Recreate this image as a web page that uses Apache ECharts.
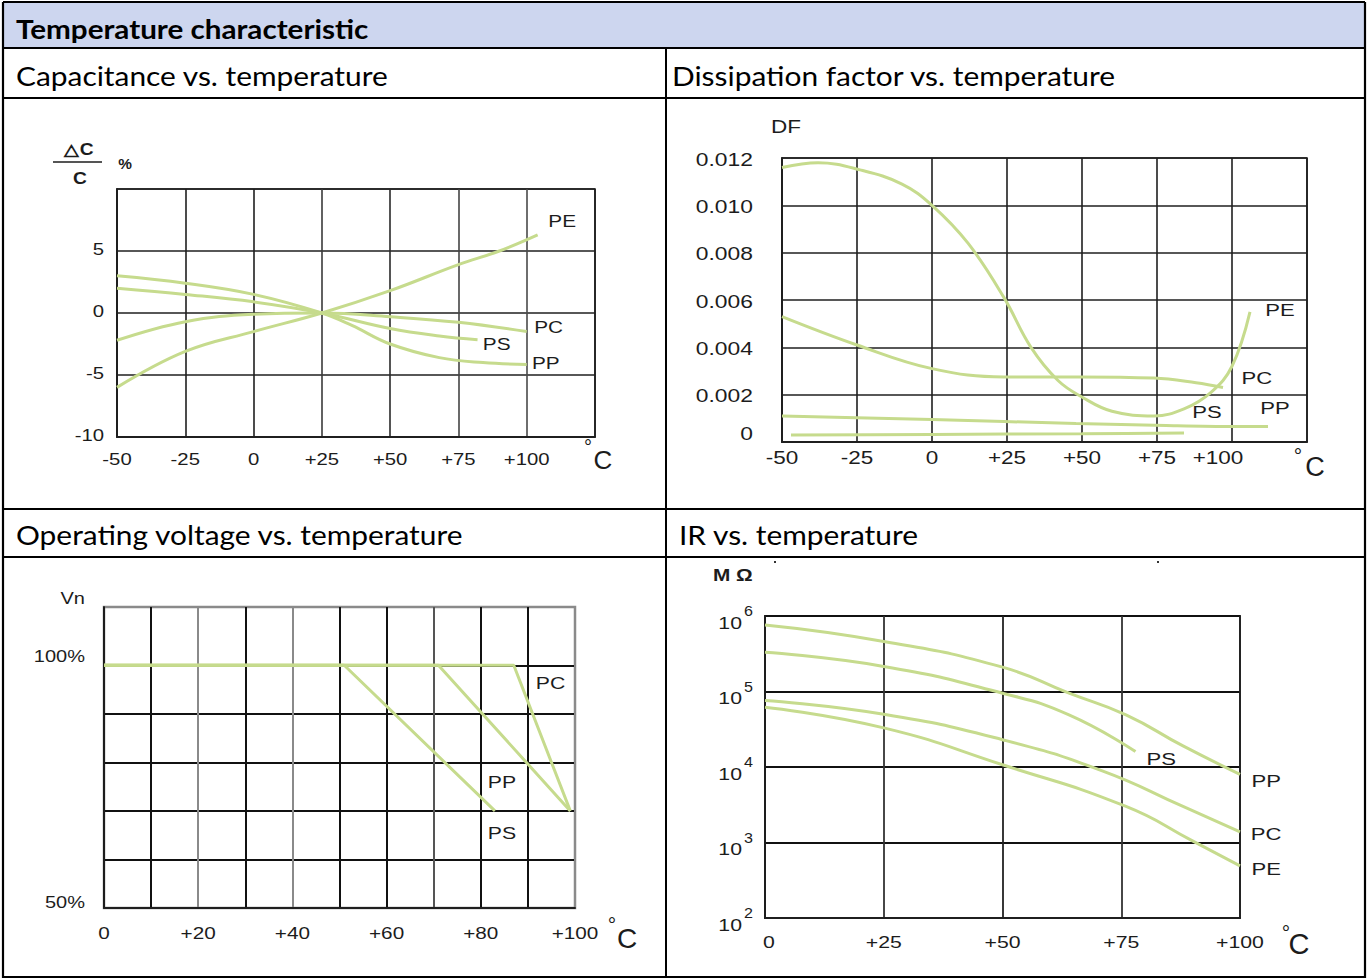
<!DOCTYPE html>
<html>
<head>
<meta charset="utf-8">
<title>Temperature characteristic</title>
<script src="https://cdn.jsdelivr.net/npm/echarts@6/dist/echarts.min.js"></script>
<style>
html,body{margin:0;padding:0;background:#fff;}
#c{width:1367px;height:978px;}
</style>
</head>
<body>
<div id="c"></div>
<script>
// ================= DATA =================
// Capacitance vs. temperature (ΔC/C, %)
const capXTicks = [-50, -25, 0, 25, 50, 75, 100];
const capXTickLabels = ['-50', '-25', '0', '+25', '+50', '+75', '+100'];
const capYTicks = [-10, -5, 0, 5];
const capYTickLabels = ['-10', '-5', '0', '5'];
const capPE = [[-50,-6.0],[-25,-3.1],[0,-1.5],[25,0],[50,1.8],[75,3.9],[90,5.0],[104,6.3]];
const capPC = [[-50,-2.2],[-25,-0.7],[0,-0.1],[25,0],[50,-0.3],[75,-0.75],[100,-1.5]];
const capPS = [[-50,2.0],[-25,1.5],[0,0.9],[25,0],[50,-1.25],[68,-1.85],[82,-2.15]];
const capPP = [[-50,3.0],[-25,2.4],[0,1.5],[25,0],[36,-1.0],[50,-2.5],[68,-3.6],[84,-4.0],[100,-4.15]];
const capCurveNames = ['PE', 'PC', 'PS', 'PP'];
const capCurveNameAt = [[113, 7.4], [108, -1.2], [89, -2.5], [107, -4.1]];

// Dissipation factor vs. temperature
const dfXTicks = [-50, -25, 0, 25, 50, 75, 100];
const dfXTickLabels = ['-50', '-25', '0', '+25', '+50', '+75', '+100'];
const dfYTicks = [0, 0.002, 0.004, 0.006, 0.008, 0.010, 0.012];
const dfYTickLabels = ['0', '0.002', '0.004', '0.006', '0.008', '0.010', '0.012'];
const dfPE = [[-50,0.0116],[-38,0.0118],[-24,0.0115],[-10,0.0109],[0,0.0100],[12,0.0084],[24,0.0061],[33,0.0040],[42,0.0026],[50,0.0019],[60,0.0013],[74,0.0011],[84,0.0014],[93,0.0021],[100,0.0032],[106,0.0055]];
const dfPC = [[-50,0.0053],[-25,0.0041],[0,0.0031],[24,0.00275],[49,0.00275],[74,0.0027],[88,0.0025],[97,0.0023]];
const dfPP = [[-50,0.0011],[0,0.00095],[48,0.00078],[78,0.0007],[100,0.00066],[112,0.00066]];
const dfPS = [[-47,0.0003],[0,0.00032],[50,0.00035],[84,0.00038]];
const dfCurveNames = ['PE', 'PC', 'PS', 'PP'];
const dfCurveNameAt = [[116, 0.00558], [108.3, 0.0027], [91.7, 0.00127], [114.3, 0.00144]];

// Operating voltage vs. temperature (% of Vn)
const vnXTicks = [0, 20, 40, 60, 80, 100];
const vnXTickLabels = ['0', '+20', '+40', '+60', '+80', '+100'];
const vnYTicks = [50, 100];
const vnYTickLabels = ['50%', '100%'];
const vnPS = [[0,100],[51,100],[83,70]];
const vnPP = [[0,100],[71,100],[99,70]];
const vnPC = [[0,100],[87,100],[99,70]];
const vnCurveNames = ['PC', 'PP', 'PS'];
const vnCurveNameAt = [[94.8, 96.2], [84.5, 76], [84.5, 65.4]];

// IR vs. temperature (MΩ, log scale)
const irXTicks = [0, 25, 50, 75, 100];
const irXTickLabels = ['0', '+25', '+50', '+75', '+100'];
const irYTicks = [100, 1000, 10000, 100000, 1000000];
const irYTickExps = ['2', '3', '4', '5', '6'];
const irPP = [[0,760000],[25,460000],[50,210000],[64,95000],[76,49000],[88,19000],[100,8000]];
const irPS = [[0,330000],[25,215000],[50,95000],[64,49000],[78,16000]];
const irPC = [[0,76000],[25,50000],[50,23000],[71,8900],[88,3000],[100,1380]];
const irPE = [[0,62000],[25,33000],[50,10700],[76,3000],[90,1050],[100,490]];
const irCurveNames = ['PS', 'PP', 'PC', 'PE'];
const irCurveNameAt = [[83.4, 12600], [105.5, 6500], [105.5, 1300], [105.5, 440]];

// Table text
const headerTitle = 'Temperature characteristic';
const cellTitles = ['Capacitance vs. temperature', 'Dissipation factor vs. temperature',
                    'Operating voltage vs. temperature', 'IR vs. temperature'];

// ================= STYLE =================
const CURVE = '#c6db8d';
const INK = '#1c1c1c';
const GRIDC = '#1f1f1f';
const SANS = '"Liberation Sans", Arial, sans-serif';
const TITLEF = 'Lato, "Open Sans", sans-serif';

const chart = echarts.init(document.getElementById('c'), null, {renderer: 'svg', width: 1367, height: 978});

function xAx(gi, min, max, interval, split) {
  return {gridIndex: gi, type: 'value', min, max, interval,
    axisLine: {show: true, onZero: false, lineStyle: {color: GRIDC, width: 1.8}},
    axisTick: {show: false}, axisLabel: {show: false},
    splitLine: {show: true, lineStyle: split}};
}
function yAx(gi, type, min, max, interval, split) {
  const a = {gridIndex: gi, type, min, max,
    axisLine: {show: true, onZero: false, lineStyle: {color: GRIDC, width: 1.8}},
    axisTick: {show: false}, axisLabel: {show: false},
    splitLine: {show: true, lineStyle: split}};
  if (interval) a.interval = interval;
  if (type === 'log') a.logBase = 10;
  return a;
}
function curve(gi, data, smooth) {
  return {type: 'line', xAxisIndex: gi, yAxisIndex: gi, data, symbol: 'none', showSymbol: false,
    smooth: smooth, silent: true, animation: false, z: 5,
    lineStyle: {color: CURVE, width: 3}};
}

const option = {
  animation: false,
  backgroundColor: '#ffffff',
  grid: [
    {left: 117, top: 189, width: 478, height: 248, show: true, borderColor: GRIDC, borderWidth: 1.6, backgroundColor: 'transparent'},
    {left: 782, top: 158, width: 525, height: 284, show: true, borderColor: GRIDC, borderWidth: 1.6, backgroundColor: 'transparent'},
    {left: 104, top: 607, width: 471, height: 301, show: true, borderColor: '#8a8a8a', borderWidth: 2.5, backgroundColor: 'transparent'},
    {left: 765, top: 616, width: 475, height: 302, show: true, borderColor: GRIDC, borderWidth: 1.8, backgroundColor: 'transparent'}
  ],
  xAxis: [
    xAx(0, -50, 125, 25, {color: ['#1f1f1f','#1f1f1f','#1f1f1f','#3a3a3a','#2a2a2a','#444','#4a4a4a','#1f1f1f'], width: 1.6}),
    xAx(1, -50, 125, 25, {color: GRIDC, width: 1.6}),
    xAx(2, 0, 100, 10, {color: ['#111','#111','#8a8a8a','#111','#8a8a8a','#111','#111','#555','#111','#111','#8a8a8a'], width: 2}),
    xAx(3, 0, 100, 25, {color: ['#111','#333','#222','#333','#222'], width: 1.8})
  ],
  yAxis: [
    yAx(0, 'value', -10, 10, 5, {color: GRIDC, width: 1.6}),
    yAx(1, 'value', 0, 0.012, 0.002, {color: GRIDC, width: 1.6}),
    yAx(2, 'value', 50, 112, 10, {color: ['#111','#111','#111','#111','#111','#111','rgba(0,0,0,0)','#8a8a8a'], width: 2}),
    yAx(3, 'log', 100, 1000000, null, {color: '#111', width: 1.8})
  ],
  series: [
    curve(0, capPE, 0.4), curve(0, capPC, 0.4), curve(0, capPS, 0.4), curve(0, capPP, 0.4),
    curve(1, dfPE, 0.4), curve(1, dfPC, 0.4), curve(1, dfPP, 0.3), curve(1, dfPS, 0.3),
    curve(2, vnPS, false), curve(2, vnPP, false), curve(2, vnPC, false),
    curve(3, irPP, 0.5), curve(3, irPS, 0.5), curve(3, irPC, 0.5), curve(3, irPE, 0.5)
  ]
};
chart.setOption(option);

// ================= TEXT + TABLE (graphic) =================
const G = [];
const P = (gi, x, y) => chart.convertToPixel({gridIndex: gi}, [x, y]);

function T(x, y, text, o) {
  o = o || {};
  const al = o.align || 'center', va = o.va || 'middle';
  G.push({type: 'text', x: x, y: y, scaleX: o.sx || 1, silent: true, z: 100,
    style: {text: text, fill: o.color || INK,
      font: (o.weight || 'normal') + ' ' + o.size + 'px ' + (o.family || SANS),
      align: al, verticalAlign: va, textAlign: al, textVerticalAlign: va}});
}
function L(x1, y1, x2, y2, w, c) {
  G.push({type: 'line', silent: true, z: 90, shape: {x1, y1, x2, y2},
    style: {stroke: c || '#000', lineWidth: w || 2}});
}

// table
G.push({type: 'rect', silent: true, z: 80, shape: {x: 3, y: 2, width: 1362, height: 46}, style: {fill: '#cdd6ef'}});
L(3, 2, 1365, 2, 2.2); L(3, 2, 3, 978, 2.2); L(1365, 2, 1365, 978, 2.2); L(3, 977, 1365, 977, 2.2);
L(3, 48, 1365, 48, 2); L(3, 98, 1365, 98, 2); L(3, 509, 1365, 509, 2); L(3, 557, 1365, 557, 2);
L(666, 48, 666, 978, 2);
const TT = {family: TITLEF, size: 26, sx: 1.15, align: 'left', color: '#000'};
T(16, 29, headerTitle, Object.assign({}, TT, {weight: 'bold', sx: 1.14}));
T(16, 76, cellTitles[0], TT);
T(672, 76, cellTitles[1], TT);
T(16, 535, cellTitles[2], TT);
T(679, 535, cellTitles[3], TT);

// ---- chart 1 : capacitance
capXTicks.forEach((v, i) => { const p = P(0, v, -10); T(p[0], p[1] + 22, capXTickLabels[i], {size: 16, sx: 1.27}); });
capYTicks.forEach((v, i) => { const p = P(0, -50, v); T(p[0] - 13, p[1] - 2, capYTickLabels[i], {size: 16, sx: 1.27, align: 'right'}); });
capCurveNames.forEach((n, i) => { const p = P(0, capCurveNameAt[i][0], capCurveNameAt[i][1]); T(p[0], p[1], n, {size: 16, sx: 1.3}); });
T(79, 150, '\u25B3C', {size: 16, sx: 1.2, weight: 'bold'});
L(53, 162, 102, 162, 2, '#555');
T(80, 179, 'C', {size: 16, sx: 1.2, weight: 'bold'});
T(125, 164, '%', {size: 14, sx: 1.1, weight: 'bold'});
T(588, 447, '\u00B0', {size: 20});
T(603, 460, 'C', {size: 26});

// ---- chart 2 : dissipation factor
dfXTicks.forEach((v, i) => { const p = P(1, v, 0); T(p[0] - (v === 100 ? 14 : 0), p[1] + 16, dfXTickLabels[i], {size: 18, sx: 1.25}); });
dfYTicks.forEach((v, i) => { const p = P(1, -50, v); T(p[0] - 29, p[1] + (v === 0 ? -9 : 1), dfYTickLabels[i], {size: 18, sx: 1.27, align: 'right'}); });
dfCurveNames.forEach((n, i) => { const p = P(1, dfCurveNameAt[i][0], dfCurveNameAt[i][1]); T(p[0], p[1], n, {size: 17, sx: 1.3}); });
T(786, 127, 'DF', {size: 18, sx: 1.25});
T(1298, 455, '\u00B0', {size: 21});
T(1315, 467, 'C', {size: 27});

// ---- chart 3 : operating voltage
vnXTicks.forEach((v, i) => { const p = P(2, v, 50); T(p[0], p[1] + 25, vnXTickLabels[i], {size: 17, sx: 1.22}); });
vnYTicks.forEach((v, i) => { const p = P(2, 0, v); T(p[0] - 19, p[1] + (v === 100 ? -9 : -5), vnYTickLabels[i], {size: 16, sx: 1.25, align: 'right'}); });
vnCurveNames.forEach((n, i) => { const p = P(2, vnCurveNameAt[i][0], vnCurveNameAt[i][1]); T(p[0], p[1], n, {size: 17, sx: 1.25}); });
T(85, 599, 'Vn', {size: 16, sx: 1.25, align: 'right'});
T(612, 924, '\u00B0', {size: 21});
T(627, 938, 'C', {size: 28});

// ---- chart 4 : IR
irXTicks.forEach((v, i) => { const p = P(3, v, 100); T(p[0] + (v === 0 ? 4 : 0), p[1] + 24, irXTickLabels[i], {size: 17, sx: 1.25}); });
irYTicks.forEach((v, i) => {
  const p = P(3, 0, v);
  T(p[0] - 23, p[1] + 7, '10', {size: 17, sx: 1.25, align: 'right'});
  T(p[0] - 21, p[1] - 5, irYTickExps[i], {size: 14, sx: 1.15, align: 'left'});
});
irCurveNames.forEach((n, i) => { const p = P(3, irCurveNameAt[i][0], irCurveNameAt[i][1]); T(p[0], p[1], n, {size: 17, sx: 1.3}); });
T(713, 575, 'M \u03A9', {size: 16, sx: 1.3, weight: 'bold', align: 'left'});
T(1286, 932, '\u00B0', {size: 21});
T(1299, 944, 'C', {size: 29});
G.push({type: 'rect', silent: true, z: 95, shape: {x: 774, y: 561, width: 2, height: 2}, style: {fill: '#333'}});
G.push({type: 'rect', silent: true, z: 95, shape: {x: 1157, y: 561, width: 2, height: 2}, style: {fill: '#333'}});

chart.setOption({graphic: {elements: G}});
</script>
</body>
</html>
